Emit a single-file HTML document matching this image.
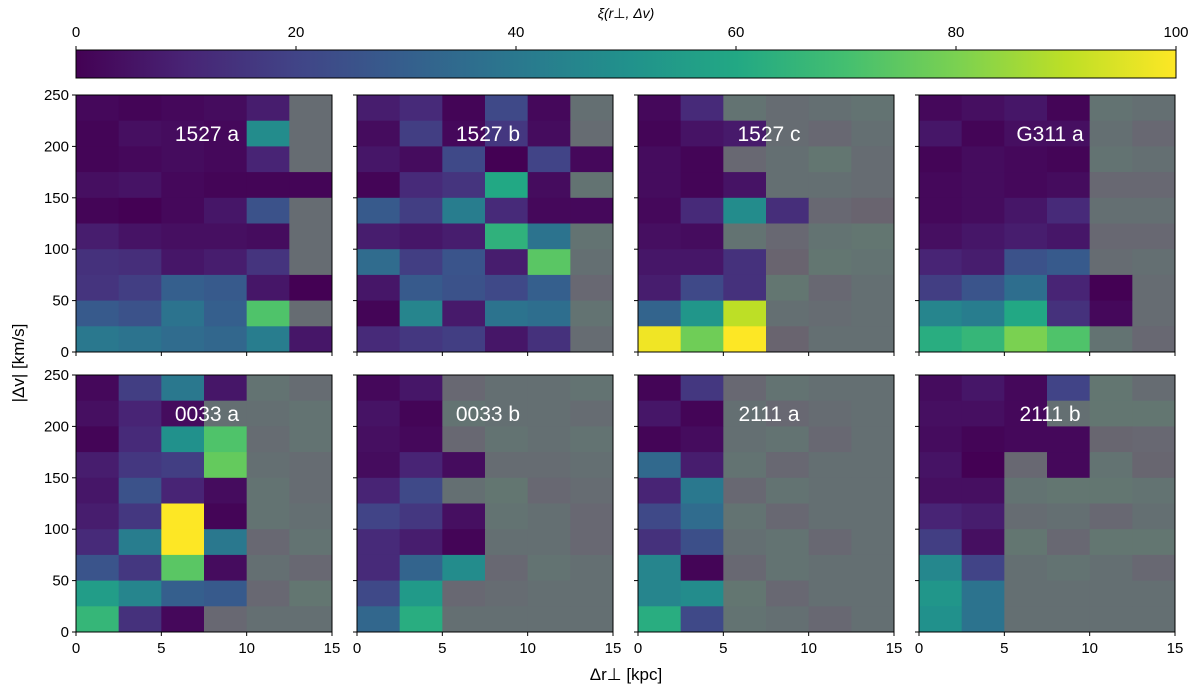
<!DOCTYPE html>
<html><head><meta charset="utf-8"><style>
body{margin:0;background:#fff;width:1200px;height:692px;overflow:hidden;font-family:"Liberation Sans","DejaVu Sans",sans-serif}
</style></head><body>
<svg id="fig" width="1200" height="692" xmlns="http://www.w3.org/2000/svg"></svg>
<script>
const panelNames=["1527 a","1527 b","1527 c","G311 a","0033 a","0033 b","2111 a","2111 b"];
const xTicks=[0,5,10,15];
const yTicks=[0,50,100,150,200,250];
const cbTicks=[0,20,40,60,80,100];
// values rows: top (225-250) to bottom (0-25); fade masks: 1 = low-significance (greyed)
const v1527a=[[2,1,2,3,8,30],[1,4,3,2,48,30],[1,2,3,2,10,30],[4,5,2,1,1,1],[1,0,2,6,25,30],[8,5,4,4,3,30],[14,13,6,8,15,30],[15,18,30,28,6,0],[28,25,38,30,72,30],[40,38,35,33,42,6]];
const f1527a=["000001","000001","000001","000000","000001","000001","000001","000000","000001","000000"];
const v1527b=[[8,12,1,22,2,40],[3,18,2,16,3,30],[6,3,22,0,20,2],[1,12,15,60,3,50],[28,18,42,12,2,2],[8,6,8,64,38,50],[35,18,26,8,74,40],[6,28,25,22,30,20],[1,45,7,38,36,50],[12,16,18,6,14,30]];
const f1527b=["000001","000001","000000","000001","000000","000001","000001","000001","000001","000001"];
const v1527c=[[2,12,50,30,40,50],[1,5,7,30,20,40],[3,1,20,40,60,30],[3,1,5,40,40,30],[2,12,48,13,20,10],[4,3,50,20,50,60],[6,6,14,10,60,50],[8,22,14,60,20,40],[32,52,90,40,30,40],[98,78,100,10,40,40]];
const f1527c=["001111","000111","001111","000111","000011","001111","000111","000111","000111","000111"];
const vG311a=[[2,4,6,1,50,40],[6,1,4,4,40,20],[1,3,2,1,50,40],[2,3,2,3,20,20],[2,3,6,12,40,40],[4,6,8,6,20,20],[10,8,25,28,30,40],[18,26,36,10,0,30],[45,42,60,14,2,30],[62,66,80,72,50,20]];
const fG311a=["000011","000011","000011","000011","000011","000011","000011","000001","000001","000011"];
const v0033a=[[2,18,40,6,50,30],[4,10,3,40,40,50],[1,12,50,72,30,50],[8,16,18,76,40,30],[6,25,10,3,50,30],[8,16,100,1,50,40],[12,42,100,40,20,50],[26,16,74,3,40,20],[55,45,30,28,20,60],[66,14,2,20,40,40]];
const f0033a=["000011","000111","000011","000011","000011","000011","000011","000011","000011","000111"];
const v0033b=[[2,6,20,40,40,50],[5,1,50,40,40,30],[4,2,20,50,40,50],[3,10,3,30,30,40],[10,22,40,60,20,30],[20,16,4,50,40,20],[12,8,1,40,40,20],[12,32,48,20,50,40],[22,54,20,30,40,40],[33,62,40,40,40,40]];
const f0033b=["001111","001111","001111","000111","001111","000111","000111","000111","001111","001111"];
const v2111a=[[1,16,20,50,40,40],[6,1,40,20,30,40],[1,3,40,50,20,40],[34,8,50,20,40,40],[10,40,20,50,40,40],[22,35,50,20,40,40],[14,24,40,50,20,40],[45,1,20,50,40,40],[45,48,60,20,40,40],[62,22,50,40,20,40]];
const f2111a=["001111","001111","001111","001111","001111","001111","001111","001111","001111","001111"];
const v2111b=[[3,6,2,20,60,30],[4,4,2,40,60,60],[3,1,2,2,15,20],[5,0,20,2,50,15],[4,4,50,60,60,50],[10,8,30,40,20,40],[18,4,60,20,60,60],[46,20,40,50,40,20],[52,38,40,40,40,40],[50,38,40,40,40,40]];
const f2111b=["000011","000111","000011","001011","001111","001111","001111","001111","001111","001111"];
const panelVals=[v1527a,v1527b,v1527c,vG311a,v0033a,v0033b,v2111a,v2111b];
const panelFade=[f1527a,f1527b,f1527c,fG311a,f0033a,f0033b,f2111a,f2111b];

const NS="http://www.w3.org/2000/svg",svg=document.getElementById("fig");
function el(t,a,p){const e=document.createElementNS(NS,t);for(const k in a)e.setAttribute(k,a[k]);(p||svg).appendChild(e);return e;}
const VS=[[68,1,84],[72,36,117],[65,68,135],[53,95,141],[42,120,142],[33,145,140],[34,168,132],[68,191,112],[122,209,81],[189,223,38],[253,231,37]];
function vir(v){v=Math.max(0,Math.min(100,v))/10;const i=Math.min(9,Math.floor(v)),t=v-i;const a=VS[i],b=VS[i+1];return a.map((c,k)=>c+(b[k]-c)*t);}
function rgb(c){return "rgb("+c.map(Math.round).join(",")+")";}
const X0=[76,357,638,919],Y0=[95,375],W=256,H=257;
const cbX=76,cbY=50,cbW=1100,cbH=28;
const defs=el("defs",{});const g=el("linearGradient",{id:"vg",x1:"0",x2:"1",y1:"0",y2:"0"},defs);
for(let i=0;i<=10;i++)el("stop",{offset:i/10,"stop-color":rgb(VS[i])},g);
const cb=el("rect",{x:cbX,y:cbY,width:cbW,height:cbH,fill:"url(#vg)",stroke:"#000","stroke-width":1});


cbTicks.forEach(t=>{const x=cbX+t/100*cbW;el("line",{x1:x,x2:x,y1:cbY,y2:cbY-4,stroke:"#000"});
 const tx=el("text",{x:x,y:cbY-13,"font-size":15,"text-anchor":"middle"});tx.textContent=t;
 
 });
const ct=el("text",{x:626,y:18,"font-size":14,"text-anchor":"middle","font-style":"italic"});ct.textContent="ξ(r⊥, Δv)";


const sx=d=>d/15*W, sy=d=>H-d/250*H;
panelVals.forEach((vals,p)=>{
 const ox=X0[p%4],oy=Y0[Math.floor(p/4)];
 const gp=el("g",{transform:`translate(${ox},${oy})`});
 
 
 vals.forEach((row,r)=>row.forEach((v,c)=>{
  let col=vir(v);
  if(panelFade[p][r][c]==="1")col=col.map(k=>k*0.14+110*0.86);
  const x1=sx(c*2.5),x2=sx((c+1)*2.5),y1=sy(250-r*25),y2=sy(225-r*25);
  const rc=el("rect",{x:x1,y:y1,width:x2-x1+0.5,height:y2-y1+0.5,fill:rgb(col)},gp);
  
  
 }));
 el("rect",{x:0,y:0,width:W,height:H,fill:"none",stroke:"#000","stroke-width":1},gp);
 const lb=el("text",{x:W/2+3,y:46,"font-size":21,fill:"#fff","text-anchor":"middle"},gp);lb.textContent=panelNames[p];
 
 
 yTicks.forEach(t=>{el("line",{x1:0,x2:-4,y1:sy(t),y2:sy(t),stroke:"#000"},gp);
  if(p%4===0){const tx=el("text",{x:-7,y:sy(t)+5,"font-size":15,"text-anchor":"end"},gp);tx.textContent=t;
   
   }});
 xTicks.forEach(t=>{el("line",{x1:sx(t),x2:sx(t),y1:H,y2:H+4,stroke:"#000"},gp);
  if(p>=4){const tx=el("text",{x:sx(t),y:H+21,"font-size":15,"text-anchor":"middle"},gp);tx.textContent=t;
   
   }});
});
const yl=el("text",{x:0,y:0,"font-size":17,"text-anchor":"middle",transform:"translate(24,363) rotate(-90)"});yl.textContent="|Δv| [km/s]";


const xl=el("text",{x:626,y:680,"font-size":17,"text-anchor":"middle"});xl.textContent="Δr⊥ [kpc]";


</script>
</body></html>
